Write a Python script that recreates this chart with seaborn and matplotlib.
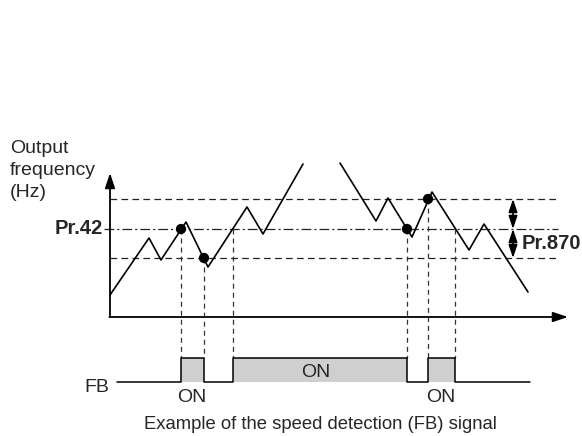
import numpy as np
import pandas as pd
import matplotlib
matplotlib.use('Agg')
import matplotlib.pyplot as plt
import seaborn as sns

sns.set_theme(style='white')
plt.rcParams['font.family'] = ['Liberation Sans', 'DejaVu Sans']
plt.rcParams['lines.scale_dashes'] = False

# diagram coordinates (x = time, y = frequency, origin at lower left of canvas)
t_origin, f_origin = 110, 119
t_axis_end, f_axis_end = 568, 263
level_upper, level_pr42, level_lower = 237, 207, 178
level_line_end = 558

# output frequency, two visible stretches (the line leaves the top in between)
seg1_t = [110, 149, 161, 186, 208, 247, 263, 303]
seg1_f = [141, 198, 176, 214, 169, 229, 202, 272]
seg2_t = [340, 376, 388, 412, 432, 469, 484, 528]
seg2_f = [273, 215, 238, 199, 244, 186, 212, 144]

# FB switching instants and the level at which they happen
switch_t = [181, 204, 233, 407, 428, 455]
switch_f = [207, 178, 207, 207, 237, 207]
dot_idx = [0, 1, 3, 4]

# FB signal
fb_low, fb_high = 54, 78
fb_start, fb_end = 117, 530
fb_on = [(181, 204), (233, 407), (428, 455)]

freq = pd.DataFrame({
    't': seg1_t + seg2_t,
    'f': seg1_f + seg2_f,
    'seg': [1] * len(seg1_t) + [2] * len(seg2_t),
})
dots = pd.DataFrame({'t': [switch_t[i] for i in dot_idx],
                     'f': [switch_f[i] for i in dot_idx]})

fig = plt.figure(figsize=(5.82, 4.36), dpi=100)
ax = fig.add_axes([0, 0, 1, 1])
ax.set_xlim(0, 582)
ax.set_ylim(0, 436)
ax.axis('off')

# reference levels
ax.plot([t_origin, level_line_end], [level_upper] * 2, color='#222222', lw=0.9, dashes=(4.8, 3.1))
ax.plot([t_origin, level_line_end], [level_lower] * 2, color='#222222', lw=0.9, dashes=(4.8, 3.1))
ax.plot([t_origin - 6, level_line_end], [level_pr42] * 2, color='#222222', lw=0.9,
        dashes=(7, 2.2, 1.5, 2.2))

# frequency curve
sns.lineplot(data=freq, x='t', y='f', units='seg', estimator=None, sort=False,
             color='black', lw=1.2, ax=ax, legend=False)

# vertical dashed guides down to FB signal
for t, f in zip(switch_t, switch_f):
    ax.plot([t, t], [f, fb_high], color='#333333', lw=0.9, dashes=(3.6, 2.9))

sns.scatterplot(data=dots, x='t', y='f', color='black', s=55, edgecolor='none',
                ax=ax, zorder=5)

# axes arrows
arr = dict(arrowstyle='-|>,head_length=0.75,head_width=0.25', lw=1.3, color='black',
           shrinkA=0, shrinkB=0)
ax.annotate('', xy=(t_origin, f_axis_end), xytext=(t_origin, f_origin), arrowprops=arr)
ax.annotate('', xy=(t_axis_end, f_origin), xytext=(t_origin - 0.6, f_origin), arrowprops=arr)

# hysteresis arrows
darr = dict(arrowstyle='<|-|>,head_length=0.65,head_width=0.22', lw=1.2, color='black',
            shrinkA=0, shrinkB=0)
ax.annotate('', xy=(513, level_upper), xytext=(513, level_pr42), arrowprops=darr)
ax.annotate('', xy=(513, level_pr42), xytext=(513, level_lower), arrowprops=darr)

# FB signal
fb_x = [fb_start]
fb_y = [fb_low]
for a, b in fb_on:
    fb_x += [a, a, b, b]
    fb_y += [fb_low, fb_high, fb_high, fb_low]
fb_x.append(fb_end)
fb_y.append(fb_low)
for a, b in fb_on:
    ax.fill_between([a, b], fb_low, fb_high, color='#cfcfcf', lw=0)
ax.plot(fb_x, fb_y, color='black', lw=1.1)

# texts
fs = 14
for i, line in enumerate(['Output', 'frequency', '(Hz)']):
    ax.text(10, 283 - 22 * i, line, fontsize=fs, ha='left', va='baseline')
ax.text(103, level_pr42, 'Pr.42', fontsize=14.5, fontweight='bold', ha='right', va='center')
ax.text(522, (level_pr42 + level_lower) / 2, 'Pr.870', fontsize=14.5, fontweight='bold',
        ha='left', va='center')
ax.text(109, 44, 'FB', fontsize=fs, ha='right', va='baseline')
ax.text(192, 39, 'ON', fontsize=fs, ha='center', va='center')
ax.text(316, 64, 'ON', fontsize=fs, ha='center', va='center')
ax.text(441, 39, 'ON', fontsize=fs, ha='center', va='center')
ax.text(320, 12, 'Example of the speed detection (FB) signal', fontsize=13.3,
        ha='center', va='center')

fig.savefig('out.png', dpi=100)
